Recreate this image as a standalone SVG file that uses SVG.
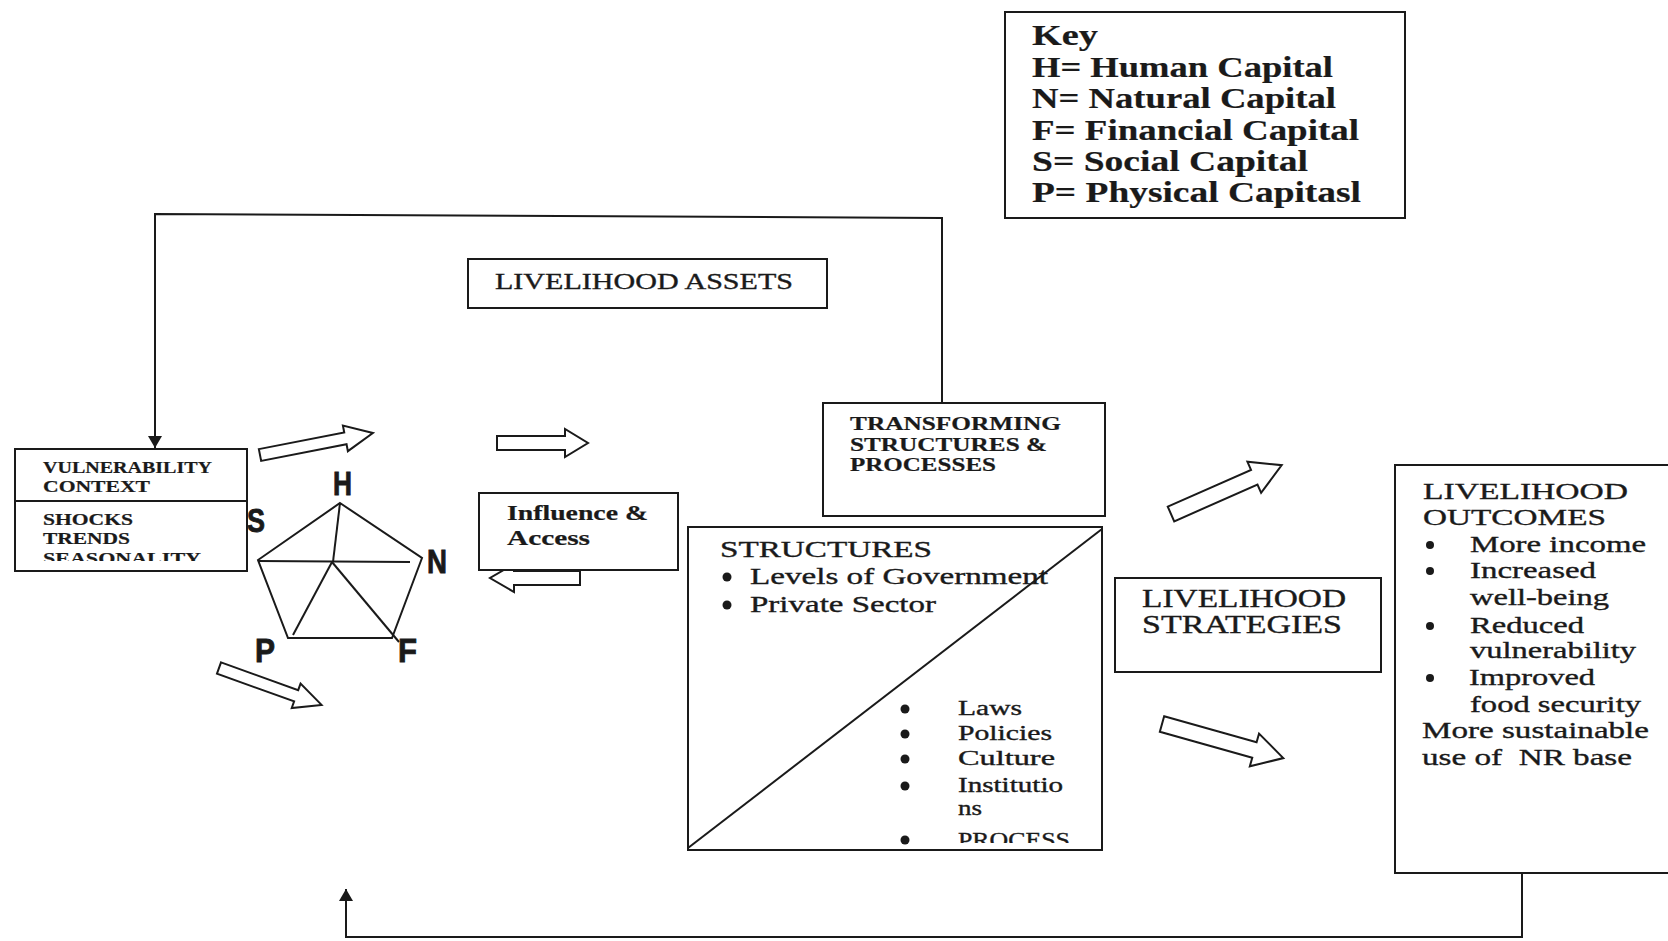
<svg xmlns="http://www.w3.org/2000/svg" width="1668" height="941" viewBox="0 0 1668 941">
<style>
.box{fill:#fff;stroke:#1a1a1a;stroke-width:2}
.ln{fill:none;stroke:#1a1a1a;stroke-width:2}
.blk{fill:#fff;stroke:#1a1a1a;stroke-width:2;stroke-linejoin:miter}
.t{font-family:"Liberation Serif","Times New Roman",serif;fill:#1a1a1a;stroke:#1a1a1a;stroke-width:0.35}
.b{font-weight:bold;stroke-width:0.2}
.lab{font-family:"Liberation Sans Narrow","Liberation Sans",Arial,sans-serif;font-weight:bold;font-size:34px;fill:#1a1a1a;stroke:#1a1a1a;stroke-width:0.9}
.dot{fill:#1a1a1a}
.pre{white-space:pre}
</style>
<defs>
<marker id="ah" markerUnits="userSpaceOnUse" markerWidth="12" markerHeight="14" refX="12" refY="7" orient="auto">
<path d="M0,0 L12,7 L0,14 Z" fill="#1a1a1a"/>
</marker>
<clipPath id="clipSea"><rect x="16" y="540" width="230" height="21"/></clipPath>
<clipPath id="clipProc"><rect x="890" y="820" width="210" height="23"/></clipPath>
</defs>
<rect width="1668" height="941" fill="#fff"/>

<g id="connectors">
<polyline class="ln" points="942,403 942,218 155,214 155,448" marker-end="url(#ah)"/>
<polyline class="ln" points="1522,873 1522,937 346,937 346,889" marker-end="url(#ah)"/>
<path class="blk" d="M0,-6 L87,-6 L87,-13 L115,0 L87,13 L87,6 L0,6 Z" transform="translate(260,455) rotate(-11)"/>
<path class="blk" d="M0,-7 L68,-7 L68,-14 L91,0 L68,14 L68,7 L0,7 Z" transform="translate(497,443)"/>
<path class="blk" d="M0,-7 L66,-7 L66,-14 L90,0 L66,14 L66,7 L0,7 Z" transform="translate(580,578) rotate(180)"/>
<path class="blk" d="M0,-6 L82,-6 L82,-13 L109,0 L82,13 L82,6 L0,6 Z" transform="translate(219,668) rotate(19.8)"/>
<path class="blk" d="M0,-8 L91,-8 L91,-17 L121,0 L91,17 L91,8 L0,8 Z" transform="translate(1171,514) rotate(-23.8)"/>
<path class="blk" d="M0,-8 L96,-8 L96,-17 L126,0 L96,17 L96,8 L0,8 Z" transform="translate(1162,724) rotate(15.7)"/>
</g>

<g id="key">
<rect class="box" x="1005" y="12" width="400" height="206"/>
<text class="t b" font-size="29" x="1032" y="45" textLength="66" lengthAdjust="spacingAndGlyphs">Key</text>
<text class="t b" font-size="29" x="1032" y="77" textLength="301" lengthAdjust="spacingAndGlyphs">H= Human Capital</text>
<text class="t b" font-size="29" x="1032" y="108" textLength="304" lengthAdjust="spacingAndGlyphs">N= Natural Capital</text>
<text class="t b" font-size="29" x="1032" y="140" textLength="327" lengthAdjust="spacingAndGlyphs">F= Financial Capital</text>
<text class="t b" font-size="29" x="1032" y="171" textLength="276" lengthAdjust="spacingAndGlyphs">S= Social Capital</text>
<text class="t b" font-size="29" x="1032" y="202" textLength="329" lengthAdjust="spacingAndGlyphs">P= Physical Capitasl</text>
</g>

<g id="livelihood-assets">
<rect class="box" x="468" y="259" width="359" height="49"/>
<text class="t" font-size="23" x="495" y="289" textLength="298" lengthAdjust="spacingAndGlyphs">LIVELIHOOD ASSETS</text>
</g>

<g id="vulnerability-context">
<rect class="box" x="15" y="449" width="232" height="122"/>
<line class="ln" x1="15" y1="501" x2="247" y2="501"/>
<text class="t b" font-size="16" x="43" y="473" textLength="169" lengthAdjust="spacingAndGlyphs">VULNERABILITY</text>
<text class="t b" font-size="16" x="43" y="492" textLength="107" lengthAdjust="spacingAndGlyphs">CONTEXT</text>
<text class="t b" font-size="16" x="43" y="525" textLength="90" lengthAdjust="spacingAndGlyphs">SHOCKS</text>
<text class="t b" font-size="16" x="43" y="544" textLength="87" lengthAdjust="spacingAndGlyphs">TRENDS</text>
<text class="t b" font-size="16" x="43" y="564" textLength="158" lengthAdjust="spacingAndGlyphs" clip-path="url(#clipSea)">SEASONALITY</text>
</g>

<g id="asset-pentagon">
<polygon class="ln" points="340,503 422,558 392,638 288,638 258,560"/>
<polyline class="ln" points="258,561 410,562"/>
<polyline class="ln" points="340,503 333,562"/>
<polyline class="ln" points="332,562 293,635"/>
<polyline class="ln" points="332,562 399,642"/>
<text class="lab" x="333" y="495" textLength="19" lengthAdjust="spacingAndGlyphs">H</text>
<text class="lab" x="247" y="532" textLength="18" lengthAdjust="spacingAndGlyphs">S</text>
<text class="lab" x="427" y="573" textLength="20" lengthAdjust="spacingAndGlyphs">N</text>
<text class="lab" x="255" y="662" textLength="20" lengthAdjust="spacingAndGlyphs">P</text>
<text class="lab" x="398" y="662" textLength="19" lengthAdjust="spacingAndGlyphs">F</text>
</g>

<g id="influence-access">
<rect class="box" x="479" y="493" width="199" height="77"/>
<text class="t b" font-size="20" x="507" y="520" textLength="141" lengthAdjust="spacingAndGlyphs">Influence &amp;</text>
<text class="t b" font-size="20" x="507" y="545" textLength="83" lengthAdjust="spacingAndGlyphs">Access</text>
</g>

<g id="transforming-structures">
<rect class="box" x="823" y="403" width="282" height="113"/>
<text class="t b" font-size="18" x="850" y="430" textLength="211" lengthAdjust="spacingAndGlyphs">TRANSFORMING</text>
<text class="t b" font-size="18" x="850" y="451" textLength="197" lengthAdjust="spacingAndGlyphs">STRUCTURES &amp;</text>
<text class="t b" font-size="18" x="850" y="471" textLength="146" lengthAdjust="spacingAndGlyphs">PROCESSES</text>
</g>

<g id="structures-processes">
<rect class="box" x="688" y="527" width="414" height="323"/>
<text class="t" font-size="23" x="720" y="557" textLength="212" lengthAdjust="spacingAndGlyphs">STRUCTURES</text>
<circle class="dot" cx="727" cy="577" r="4.5"/>
<text class="t" font-size="23" x="750" y="584" textLength="298" lengthAdjust="spacingAndGlyphs">Levels of Government</text>
<circle class="dot" cx="727" cy="605" r="4.5"/>
<text class="t" font-size="23" x="750" y="612" textLength="186" lengthAdjust="spacingAndGlyphs">Private Sector</text>
<circle class="dot" cx="905" cy="709" r="4.5"/>
<text class="t" font-size="20" x="958" y="715" textLength="64" lengthAdjust="spacingAndGlyphs">Laws</text>
<circle class="dot" cx="905" cy="734" r="4.5"/>
<text class="t" font-size="20" x="958" y="740" textLength="94" lengthAdjust="spacingAndGlyphs">Policies</text>
<circle class="dot" cx="905" cy="759" r="4.5"/>
<text class="t" font-size="20" x="958" y="765" textLength="97" lengthAdjust="spacingAndGlyphs">Culture</text>
<circle class="dot" cx="905" cy="786" r="4.5"/>
<text class="t" font-size="20" x="958" y="792" textLength="105" lengthAdjust="spacingAndGlyphs">Institutio</text>
<text class="t" font-size="20" x="958" y="815" textLength="24" lengthAdjust="spacingAndGlyphs">ns</text>
<circle class="dot" cx="905" cy="840" r="4.5"/>
<text class="t" font-size="20" x="958" y="847" textLength="112" lengthAdjust="spacingAndGlyphs" clip-path="url(#clipProc)">PROCESS</text>
<line class="ln" x1="688" y1="848" x2="1102" y2="529"/>
</g>

<g id="livelihood-strategies">
<rect class="box" x="1115" y="578" width="266" height="94"/>
<text class="t" font-size="25" x="1142" y="607" textLength="204" lengthAdjust="spacingAndGlyphs">LIVELIHOOD</text>
<text class="t" font-size="25" x="1142" y="633" textLength="200" lengthAdjust="spacingAndGlyphs">STRATEGIES</text>
</g>

<g id="livelihood-outcomes">
<rect class="box" x="1395" y="465" width="300" height="408"/>
<text class="t" font-size="24" x="1423" y="499" textLength="205" lengthAdjust="spacingAndGlyphs">LIVELIHOOD</text>
<text class="t" font-size="24" x="1423" y="525" textLength="183" lengthAdjust="spacingAndGlyphs">OUTCOMES</text>
<circle class="dot" cx="1430" cy="545" r="4"/>
<text class="t" font-size="23" x="1470" y="552" textLength="176" lengthAdjust="spacingAndGlyphs">More income</text>
<circle class="dot" cx="1430" cy="571" r="4"/>
<text class="t" font-size="23" x="1470" y="578" textLength="126" lengthAdjust="spacingAndGlyphs">Increased</text>
<text class="t" font-size="23" x="1470" y="605" textLength="139" lengthAdjust="spacingAndGlyphs">well-being</text>
<circle class="dot" cx="1430" cy="626" r="4"/>
<text class="t" font-size="23" x="1470" y="633" textLength="114" lengthAdjust="spacingAndGlyphs">Reduced</text>
<text class="t" font-size="23" x="1470" y="658" textLength="166" lengthAdjust="spacingAndGlyphs">vulnerability</text>
<circle class="dot" cx="1430" cy="678" r="4"/>
<text class="t" font-size="23" x="1469" y="685" textLength="126" lengthAdjust="spacingAndGlyphs">Improved</text>
<text class="t" font-size="23" x="1470" y="712" textLength="171" lengthAdjust="spacingAndGlyphs">food security</text>
<text class="t" font-size="23" x="1422" y="738" textLength="227" lengthAdjust="spacingAndGlyphs">More sustainable</text>
<text class="t pre" font-size="23" x="1422" y="765" textLength="210" lengthAdjust="spacingAndGlyphs">use of  NR base</text>
</g>
</svg>
